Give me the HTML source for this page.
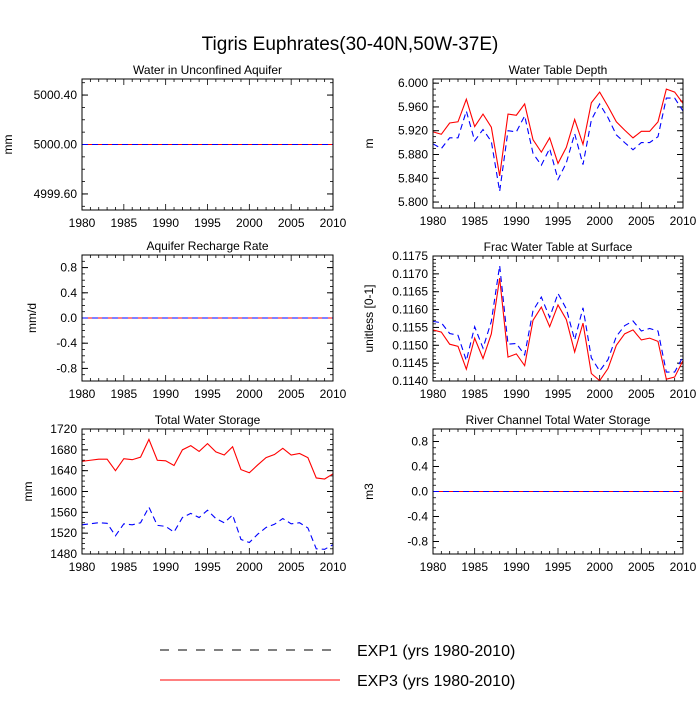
<!DOCTYPE html>
<html><head><meta charset="utf-8"><style>
body{margin:0;background:#fff;font-family:"Liberation Sans",sans-serif}
svg text{font-family:"Liberation Sans",sans-serif;fill:#000}
</style></head><body>
<svg id="c" width="700" height="700" xmlns="http://www.w3.org/2000/svg">
<text x="350" y="50" text-anchor="middle" font-size="19">Tigris Euphrates(30-40N,50W-37E)</text>
<g>
<line x1="160" y1="650" x2="340" y2="650" stroke="#000" stroke-dasharray="9,9"/>
<text x="357" y="656" font-size="16">EXP1 (yrs 1980-2010)</text>
<line x1="160" y1="680" x2="340" y2="680" stroke="#f00"/>
<text x="357" y="686" font-size="16">EXP3 (yrs 1980-2010)</text>
</g>
</svg>
<script>
const years=[];for(let y=1980;y<=2010;y++)years.push(y);
const xTicks=[1980,1985,1990,1995,2000,2005,2010];
const flatAquifer=[5000,5000,5000,5000,5000,5000,5000,5000,5000,5000,5000,5000,5000,5000,5000,5000,5000,5000,5000,5000,5000,5000,5000,5000,5000,5000,5000,5000,5000,5000,5000];
const flatZero=[0,0,0,0,0,0,0,0,0,0,0,0,0,0,0,0,0,0,0,0,0,0,0,0,0,0,0,0,0,0,0];
const wtdExp3=[5.918,5.914,5.933,5.935,5.973,5.927,5.948,5.926,5.844,5.948,5.946,5.965,5.905,5.884,5.908,5.865,5.892,5.939,5.897,5.967,5.985,5.961,5.935,5.921,5.908,5.919,5.919,5.935,5.990,5.985,5.966];
const wtdExp1=[5.898,5.890,5.908,5.908,5.953,5.903,5.922,5.902,5.818,5.920,5.918,5.945,5.882,5.862,5.890,5.838,5.866,5.915,5.863,5.938,5.965,5.942,5.913,5.900,5.888,5.900,5.900,5.910,5.975,5.975,5.953];
const fracExp3=[.11543,.11537,.11503,.11497,.11433,.11520,.11463,.11532,.11688,.11467,.11476,.11443,.11570,.11607,.11552,.11613,.11572,.11481,.11562,.11421,.11401,.11435,.11500,.11532,.11543,.11515,.11520,.11511,.11405,.11411,.11457];
const fracExp1=[.11567,.11563,.11533,.11528,.11457,.11552,.11492,.11567,.11723,.11503,.11505,.11473,.11597,.11635,.11578,.11645,.11602,.11515,.11605,.11465,.11428,.11460,.11525,.11555,.11568,.11540,.11547,.11540,.11425,.11425,.11468];
const twsExp3=[1658,1660,1662,1662,1640,1663,1661,1666,1700,1660,1659,1650,1680,1688,1677,1692,1676,1670,1686,1642,1636,1651,1665,1671,1683,1670,1673,1665,1626,1624,1634];
const twsExp1=[1536,1538,1540,1539,1515,1538,1536,1540,1570,1535,1533,1522,1550,1558,1550,1564,1548,1540,1555,1508,1502,1518,1531,1537,1548,1538,1540,1530,1490,1489,1498];
const aquiferTicks=[4999.6,5000.0,5000.4];
const rateTicks=[-0.8,-0.4,0.0,0.4,0.8];
const wtdTicks=[5.8,5.84,5.88,5.92,5.96,6.0];
const fracTicks=[0.114,0.1145,0.115,0.1155,0.116,0.1165,0.117,0.1175];
const twsTicks=[1480,1520,1560,1600,1640,1680,1720];

const NS='http://www.w3.org/2000/svg';
const svg=document.getElementById('c');
function mk(t,a,p){const e=document.createElementNS(NS,t);for(const k in a)e.setAttribute(k,a[k]);(p||svg).appendChild(e);return e;}
const panels=[
 {n:'water-in-unconfined-aquifer',title:'Water in Unconfined Aquifer',yl:'mm',x0:82,x1:333,y0:79,y1:210,ymin:4999.47,ymax:5000.53,ticks:aquiferTicks,dec:2,minor:0.1,e1:flatAquifer,e3:flatAquifer,lab:12},
 {n:'water-table-depth',title:'Water Table Depth',yl:'m',x0:433,x1:683,y0:79,y1:208,ymin:5.79,ymax:6.007,ticks:wtdTicks,dec:3,minor:0.01,e1:wtdExp1,e3:wtdExp3,lab:373},
 {n:'aquifer-recharge-rate',title:'Aquifer Recharge Rate',yl:'mm/d',x0:82,x1:333,y0:255,y1:381,ymin:-1,ymax:1,ticks:rateTicks,dec:1,minor:0.1,e1:flatZero,e3:flatZero,lab:36},
 {n:'frac-water-table-at-surface',title:'Frac Water Table at Surface',yl:'unitless [0-1]',x0:433,x1:683,y0:256,y1:381,ymin:0.114,ymax:0.1175,ticks:fracTicks,dec:4,minor:0.0001,e1:fracExp1,e3:fracExp3,lab:373},
 {n:'total-water-storage',title:'Total Water Storage',yl:'mm',x0:82,x1:333,y0:429,y1:554,ymin:1480,ymax:1720,ticks:twsTicks,dec:0,minor:10,e1:twsExp1,e3:twsExp3,lab:32},
 {n:'river-channel-total-water-storage',title:'River Channel Total Water Storage',yl:'m3',x0:433,x1:683,y0:429,y1:554,ymin:-1,ymax:1,ticks:rateTicks,dec:1,minor:0.1,e1:flatZero,e3:flatZero,lab:373}
];
panels.forEach(p=>{
 const g=mk('g',{});
 
 
 const X=v=>p.x0+(v-1980)/30*(p.x1-p.x0);
 const Y=v=>p.y1-(v-p.ymin)/(p.ymax-p.ymin)*(p.y1-p.y0);
 const t=mk('text',{x:(p.x0+p.x1)/2,y:p.y0-5,'text-anchor':'middle','font-size':12},g);t.textContent=p.title;
 
 
 years.forEach(yv=>{const x=X(yv);const mj=xTicks.includes(yv);const L=mj?6:3;
  mk('line',{x1:x,x2:x,y1:p.y1,y2:p.y1-L,stroke:'#000','stroke-width':0.8},g);
  mk('line',{x1:x,x2:x,y1:p.y0,y2:p.y0+L,stroke:'#000','stroke-width':0.8},g);});
 xTicks.forEach(yv=>{const tt=mk('text',{x:X(yv),y:p.y1+17,'text-anchor':'middle','font-size':12},g);tt.textContent=yv;
  
  });
 const s=Math.ceil(p.ymin/p.minor-1e-6);
 for(let k=s;k*p.minor<=p.ymax+1e-9;k++){const y=Y(k*p.minor);
  mk('line',{x1:p.x0,x2:p.x0+3,y1:y,y2:y,stroke:'#000','stroke-width':0.8},g);
  mk('line',{x1:p.x1,x2:p.x1-3,y1:y,y2:y,stroke:'#000','stroke-width':0.8},g);}
 p.ticks.forEach(v=>{const y=Y(v);
  mk('line',{x1:p.x0,x2:p.x0+6,y1:y,y2:y,stroke:'#000'},g);
  mk('line',{x1:p.x1,x2:p.x1-6,y1:y,y2:y,stroke:'#000'},g);
  const tt=mk('text',{x:p.x0-5,y:y+4,'text-anchor':'end','font-size':12},g);tt.textContent=v.toFixed(p.dec);
  
  });
 const yl=mk('text',{x:p.lab,y:(p.y0+p.y1)/2,'text-anchor':'middle','font-size':12,transform:`rotate(-90 ${p.lab} ${(p.y0+p.y1)/2})`},g);yl.textContent=p.yl;
 
 
 const l3=mk('polyline',{points:p.e3.map((v,i)=>X(years[i])+','+Y(v)).join(' '),fill:'none',stroke:'#f00','stroke-width':1.1},g);
 
 
 const l1=mk('polyline',{points:p.e1.map((v,i)=>X(years[i])+','+Y(v)).join(' '),fill:'none',stroke:'#00f','stroke-width':1.1,'stroke-dasharray':'6,4'},g);
 
 
 mk('rect',{x:p.x0,y:p.y0,width:p.x1-p.x0,height:p.y1-p.y0,fill:'none',stroke:'#000','stroke-width':1},g);
});
</script>
</body></html>
